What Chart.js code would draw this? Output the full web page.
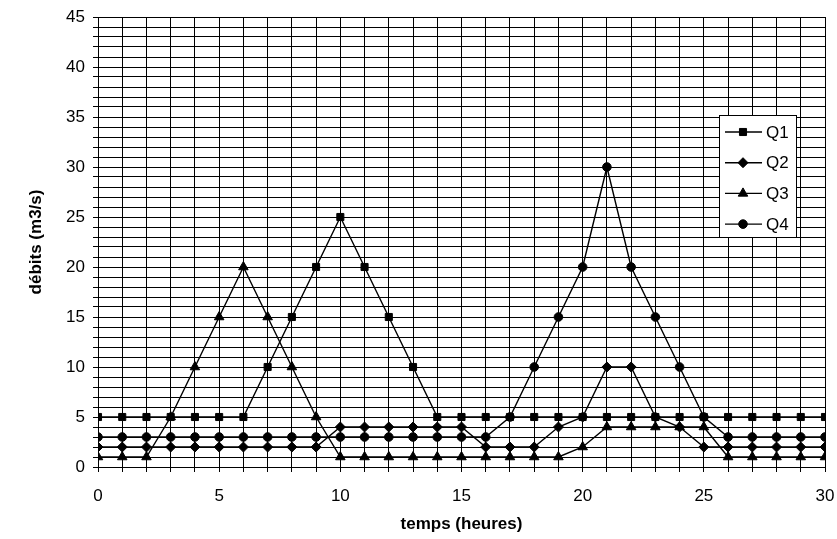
<!DOCTYPE html>
<html>
<head>
<meta charset="utf-8">
<script src="https://cdn.jsdelivr.net/npm/chart.js@4/dist/chart.umd.min.js"></script>
<style>
  html, body { margin: 0; padding: 0; background: #fff; }
  #wrap { width: 837px; height: 539px; }
</style>
</head>
<body>
<div id="wrap"><canvas id="debitsChart" width="837" height="539"></canvas></div>
<script>
// hydrogrammes Q1..Q4
const hours = [0, 1, 2, 3, 4, 5, 6, 7, 8, 9, 10, 11, 12, 13, 14, 15, 16, 17, 18, 19, 20,
               21, 22, 23, 24, 25, 26, 27, 28, 29, 30];
const q1 = [5, 5, 5, 5, 5, 5, 5, 10, 15, 20, 25, 20, 15, 10, 5, 5, 5, 5, 5, 5, 5,
            5, 5, 5, 5, 5, 5, 5, 5, 5, 5];
const q2 = [2, 2, 2, 2, 2, 2, 2, 2, 2, 2, 4, 4, 4, 4, 4, 4, 2, 2, 2, 4, 5,
            10, 10, 5, 4, 2, 2, 2, 2, 2, 2];
const q3 = [1, 1, 1, 5, 10, 15, 20, 15, 10, 5, 1, 1, 1, 1, 1, 1, 1, 1, 1, 1, 2,
            4, 4, 4, 4, 4, 1, 1, 1, 1, 1];
const q4 = [3, 3, 3, 3, 3, 3, 3, 3, 3, 3, 3, 3, 3, 3, 3, 3, 3, 5, 10, 15, 20,
            30, 20, 15, 10, 5, 3, 3, 3, 3, 3];
const seriesNames = ['Q1', 'Q2', 'Q3', 'Q4'];
const xMin = 0, xMax = 30, yMin = 0, yMax = 45;

const FONT = '"Liberation Sans", Arial, sans-serif';

function toPoints(values) {
    return hours.map((h, i) => ({ x: h, y: values[i] }));
}

function makeSeries(name, values, style, radius) {
    return {
        label: name,
        data: toPoints(values),
        borderColor: '#000',
        backgroundColor: '#000',
        borderWidth: 1.4,
        pointStyle: style,
        pointRadius: radius,
        pointBorderWidth: 1,
        pointBackgroundColor: '#000',
        pointBorderColor: '#000',
        tension: 0,
        fill: false
    };
}

// boxed legend drawn inside the plot, line + marker like the original
const boxLegend = {
    id: 'boxLegend',
    afterDraw(chart) {
        const ctx = chart.ctx;
        const left = 719.5, top = 115.5, w = 77, h = 122;
        ctx.save();
        ctx.fillStyle = '#fff';
        ctx.fillRect(left, top, w, h);
        ctx.strokeStyle = '#000';
        ctx.lineWidth = 1;
        ctx.strokeRect(left, top, w, h);
        chart.data.datasets.forEach((ds, i) => {
            const y = 132 + i * 30.7;
            ctx.strokeStyle = '#000';
            ctx.lineWidth = 1.4;
            ctx.beginPath();
            ctx.moveTo(725, y);
            ctx.lineTo(762, y);
            ctx.stroke();
            ctx.fillStyle = '#000';
            ctx.lineWidth = 1;
            Chart.helpers.drawPoint(ctx, {
                pointStyle: ds.pointStyle,
                radius: ds.pointRadius,
                rotation: 0,
                borderWidth: 1
            }, 743, y);
            ctx.fillStyle = '#000';
            ctx.font = '17px ' + FONT;
            ctx.textAlign = 'left';
            ctx.textBaseline = 'middle';
            ctx.fillText(ds.label, 766, y + 1);
        });
        ctx.restore();
    }
};

const ctx = document.getElementById('debitsChart').getContext('2d');
const debitsChart = new Chart(ctx, {
    type: 'line',
    data: {
        datasets: [
            makeSeries(seriesNames[0], q1, 'rect', 5),
            makeSeries(seriesNames[1], q2, 'rectRot', 5),
            makeSeries(seriesNames[2], q3, 'triangle', 5.5),
            makeSeries(seriesNames[3], q4, 'circle', 4.3)
        ]
    },
    options: {
        responsive: false,
        animation: false,
        layout: { padding: { left: 0, top: 17, right: 12, bottom: 0 } },
        plugins: {
            legend: { display: false },
            tooltip: { enabled: false }
        },
        scales: {
            x: {
                type: 'linear',
                min: xMin,
                max: xMax,
                afterFit: (scale) => {
                    scale.height = 72;
                    scale.paddingLeft = 0;
                    scale.paddingRight = 0;
                },
                grid: { color: '#000', lineWidth: 1, tickLength: 5, tickColor: '#000' },
                border: { color: '#000', width: 1 },
                ticks: {
                    stepSize: 1,
                    autoSkip: false,
                    maxRotation: 0,
                    padding: 14,
                    color: '#000',
                    font: { family: FONT, size: 17 },
                    callback: (v) => (v % 5 === 0 ? v : '')
                },
                title: {
                    display: true,
                    text: 'temps (heures)',
                    color: '#000',
                    font: { family: FONT, size: 17, weight: 'bold' },
                    padding: { top: 0, bottom: 4 }
                }
            },
            y: {
                min: yMin,
                max: yMax,
                afterFit: (scale) => {
                    scale.width = 98;
                    scale.paddingTop = 0;
                    scale.paddingBottom = 0;
                },
                grid: { color: '#000', lineWidth: 1, tickLength: 5, tickColor: '#000' },
                border: { color: '#000', width: 1 },
                ticks: {
                    stepSize: 1,
                    autoSkip: false,
                    maxTicksLimit: 100,
                    padding: 8,
                    color: '#000',
                    font: { family: FONT, size: 17 },
                    callback: (v) => (v % 5 === 0 ? v : '')
                },
                title: {
                    display: true,
                    text: 'débits (m3/s)',
                    color: '#000',
                    font: { family: FONT, size: 17, weight: 'bold' },
                    padding: { top: 26, bottom: 0 }
                }
            }
        }
    },
    plugins: [boxLegend]
});
</script>
</body>
</html>
